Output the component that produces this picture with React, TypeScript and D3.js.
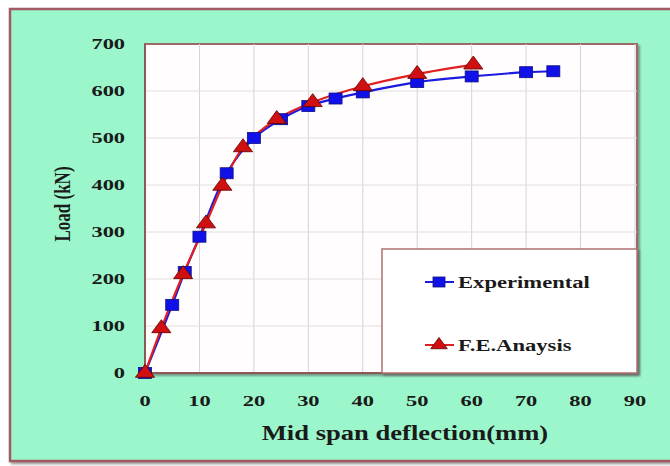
import * as d3 from 'd3';
import { useEffect, useRef } from 'react';

// Experimental (blue squares)
const expX = [0, 5, 7.3, 10, 15, 20, 25, 30, 35, 40, 50, 60, 70, 75];
const expY = [0, 145, 215, 290, 425, 500, 540, 568, 584, 597, 619, 631, 640, 642];
// F.E. Anaysis (red triangles)
const feX = [0, 3, 7, 11.2, 14.2, 18, 24.2, 30.8, 40, 50, 60.3];
const feY = [0, 95, 210, 318, 398, 480, 540, 576, 610, 636, 656];

const xTicks = [0, 10, 20, 30, 40, 50, 60, 70, 80, 90];
const yTicks = [0, 100, 200, 300, 400, 500, 600, 700];

const W = 670;
const H = 466;

export default function App() {
  const ref = useRef<SVGSVGElement | null>(null);

  useEffect(() => {
    const svg = d3.select(ref.current);
    svg.selectAll('*').remove();

    const font = '"Liberation Serif", "Times New Roman", serif';
    const m = { left: 145, right: 637, top: 44, bottom: 373 };
    const tickSx = 1.6; // the picture is stretched sideways
    const titleSx = 1.33;

    const x = d3.scaleLinear().domain([0, 90]).range([m.left, m.right - 2]);
    const y = d3.scaleLinear().domain([0, 700]).range([m.bottom, m.top]);

    const defs = svg.append('defs');
    const f = defs.append('filter').attr('id', 'sh').attr('x', '-5%').attr('y', '-5%').attr('width', '110%').attr('height', '110%');
    f.append('feDropShadow').attr('dx', 2).attr('dy', 2).attr('stdDeviation', 1.2).attr('flood-color', '#555').attr('flood-opacity', 0.6);

    // page background and outer frame
    svg.append('rect').attr('width', W).attr('height', H).attr('fill', '#ffffff');
    svg.append('rect')
      .attr('x', 10).attr('y', 9).attr('width', W + 10).attr('height', 452)
      .attr('fill', '#9bf6cb').attr('stroke', '#a45a64').attr('stroke-width', 2.5)
      .attr('filter', 'url(#sh)');

    // plot area
    svg.append('rect')
      .attr('x', m.left).attr('y', m.top).attr('width', m.right - m.left).attr('height', m.bottom - m.top)
      .attr('fill', '#fffdfd').attr('stroke', '#9a6a66').attr('stroke-width', 2)
      .attr('filter', 'url(#sh)');

    const grid = svg.append('g');
    xTicks.slice(1).forEach(t => {
      grid.append('line').attr('x1', x(t)).attr('x2', x(t)).attr('y1', m.top).attr('y2', m.bottom)
        .attr('stroke', '#d6d2d6').attr('stroke-width', 1);
    });
    yTicks.slice(1, -1).forEach(t => {
      grid.append('line').attr('x1', m.left).attr('x2', m.right).attr('y1', y(t)).attr('y2', y(t))
        .attr('stroke', '#e2dede').attr('stroke-width', 1);
    });

    // axis lines
    svg.append('line').attr('x1', m.left).attr('x2', m.left).attr('y1', m.top).attr('y2', m.bottom)
      .attr('stroke', '#8a5a56').attr('stroke-width', 2);
    svg.append('line').attr('x1', m.left).attr('x2', m.right).attr('y1', m.bottom).attr('y2', m.bottom)
      .attr('stroke', '#8a5a56').attr('stroke-width', 2);

    // tick labels
    svg.append('g').selectAll('text').data(xTicks).enter().append('text')
      .attr('transform', d => `translate(${x(d)},406) scale(${tickSx},1)`)
      .attr('text-anchor', 'middle').attr('font-family', font).attr('font-weight', 'bold')
      .attr('font-size', 14).attr('fill', '#1a1a1a').text(d => String(d));
    svg.append('g').selectAll('text').data(yTicks).enter().append('text')
      .attr('transform', d => `translate(125,${y(d) + 5}) scale(${tickSx},1)`)
      .attr('text-anchor', 'end').attr('font-family', font).attr('font-weight', 'bold')
      .attr('font-size', 14).attr('fill', '#1a1a1a').text(d => String(d));

    // axis titles
    svg.append('text').attr('transform', `translate(405,440) scale(${titleSx},1)`).attr('text-anchor', 'middle')
      .attr('font-family', font).attr('font-weight', 'bold').attr('font-size', 20)
      .attr('fill', '#1a1a1a').text('Mid span deflection(mm)');
    svg.append('text').attr('transform', `translate(70,204) scale(${titleSx},1) rotate(-90)`).attr('text-anchor', 'middle')
      .attr('font-family', font).attr('font-weight', 'bold').attr('font-size', 17)
      .attr('fill', '#1a1a1a').text('Load (kN)');

    const line = d3.line<[number, number]>().x(d => x(d[0])).y(d => y(d[1])).curve(d3.curveCatmullRom.alpha(0.5));
    const exp: [number, number][] = expX.map((v, i) => [v, expY[i]]);
    const fe: [number, number][] = feX.map((v, i) => [v, feY[i]]);

    svg.append('path').attr('d', line(exp)).attr('fill', 'none').attr('stroke', '#1a1ae0').attr('stroke-width', 2.2);
    svg.append('path').attr('d', line(fe)).attr('fill', 'none').attr('stroke', '#e02020').attr('stroke-width', 2.2);

    const sw = 13, sh = 11;
    svg.append('g').selectAll('rect').data(exp).enter().append('rect')
      .attr('x', d => x(d[0]) - sw / 2).attr('y', d => y(d[1]) - sh / 2)
      .attr('width', sw).attr('height', sh).attr('fill', '#1010e8').attr('stroke', '#101080').attr('stroke-width', 0.8);

    const tri = d3.symbol().type(d3.symbolTriangle).size(120);
    svg.append('g').selectAll('path').data(fe).enter().append('path')
      .attr('d', tri()).attr('transform', d => `translate(${x(d[0])},${y(d[1])}) scale(1.15,0.9)`)
      .attr('fill', '#d01010').attr('stroke', '#600000').attr('stroke-width', 0.8);

    // legend
    const lg = svg.append('g');
    lg.append('rect').attr('x', 382).attr('y', 249).attr('width', 255).attr('height', 124)
      .attr('fill', '#ffffff').attr('stroke', '#b07070').attr('stroke-width', 1.5).attr('filter', 'url(#sh)');
    const items = [
      { label: 'Experimental', color: '#1a1ae0', y: 282, type: 'sq' },
      { label: 'F.E.Anaysis', color: '#e02020', y: 345, type: 'tri' },
    ];
    items.forEach(it => {
      lg.append('line').attr('x1', 425).attr('x2', 454).attr('y1', it.y).attr('y2', it.y)
        .attr('stroke', it.color).attr('stroke-width', 2);
      if (it.type === 'sq') {
        lg.append('rect').attr('x', 433).attr('y', it.y - 5).attr('width', 12).attr('height', 10)
          .attr('fill', '#1010e8').attr('stroke', '#101080').attr('stroke-width', 0.8);
      } else {
        lg.append('path').attr('d', d3.symbol().type(d3.symbolTriangle).size(90)())
          .attr('transform', `translate(439,${it.y}) scale(1.15,0.9)`)
          .attr('fill', '#d01010').attr('stroke', '#600000').attr('stroke-width', 0.8);
      }
      lg.append('text').attr('transform', `translate(458,${it.y + 6}) scale(${titleSx},1)`).attr('font-family', font)
        .attr('font-weight', 'bold').attr('font-size', 17).attr('fill', '#1a1a1a').text(it.label);
    });
  }, []);

  return (
    <svg ref={ref} width={W} height={H} style={{ position: 'absolute', left: 0, top: 0, display: 'block' }} />
  );
}
